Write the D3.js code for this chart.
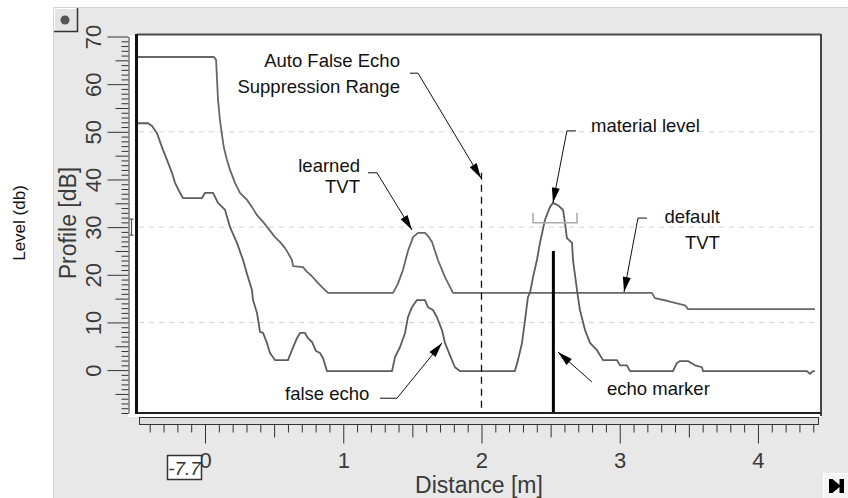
<!DOCTYPE html>
<html>
<head>
<meta charset="utf-8">
<script src="https://cdn.jsdelivr.net/npm/d3@7"></script>
<style>
  body { margin: 0; background: #fff; }
  svg { display: block; font-family: "Liberation Sans", Arial, sans-serif; }
</style>
</head>
<body>
<svg id="chart" width="848" height="498"></svg>
<script>
// TVT curve (learned near field, default beyond): distance in m, level in dB
const tvtDistance = [-0.492, 0.065, 0.080, 0.087, 0.094, 0.108, 0.123, 0.137, 0.159, 0.181, 0.217, 0.253,
  0.304, 0.340, 0.376, 0.420, 0.456, 0.506, 0.542, 0.579, 0.600, 0.629, 0.637, 0.709, 0.738, 0.774,
  0.810, 0.846, 0.890, 1.360, 1.395, 1.432, 1.468, 1.505, 1.541, 1.591, 1.620, 1.642, 1.685, 1.736,
  1.794, 3.233, 3.255, 3.349, 3.472, 3.494, 4.412];
const tvtLevel = [65.7, 65.7, 65.1, 60.9, 56.7, 52.5, 49.3, 46.6, 44.1, 42.0, 39.3, 37.2,
  35.7, 34.2, 32.5, 31.1, 29.8, 27.9, 26.9, 25.6, 24.6, 23.1, 21.8, 21.6, 20.6, 19.7,
  18.5, 17.4, 16.2, 16.2, 18.1, 21.0, 25.0, 27.9, 28.8, 28.8, 27.9, 26.9, 23.1, 19.5,
  16.2, 16.2, 15.1, 14.5, 13.6, 12.8, 12.8];

// Echo profile: distance in m, level in dB
const profileDistance = [-0.492, -0.412, -0.383, -0.347, -0.325, -0.304, -0.275, -0.239, -0.217, -0.181,
  -0.159, -0.022, 0.000, 0.058, 0.094, 0.145, 0.181, 0.231, 0.275, 0.311, 0.340, 0.347, 0.376,
  0.398, 0.420, 0.448, 0.470, 0.506, 0.600, 0.629, 0.665, 0.687, 0.723, 0.745, 0.774, 0.803,
  0.832, 0.854, 0.882, 1.353, 1.374, 1.410, 1.447, 1.468, 1.497, 1.533, 1.591, 1.613, 1.649,
  1.678, 1.714, 1.736, 1.772, 1.808, 1.844, 2.242, 2.264, 2.293, 2.315, 2.336, 2.351, 2.373,
  2.401, 2.423, 2.459, 2.495, 2.517, 2.553, 2.590, 2.604, 2.618, 2.655, 2.662, 2.691, 2.712,
  2.749, 2.785, 2.835, 2.879, 2.980, 3.002, 3.052, 3.074, 3.385, 3.414, 3.436, 3.494, 3.544,
  3.595, 3.602, 4.354, 4.376, 4.398, 4.412];
const profileLevel = [51.8, 51.8, 51.2, 49.7, 47.9, 46.2, 44.1, 41.4, 39.3, 37.2,
  36.1, 36.1, 37.2, 37.2, 35.1, 33.6, 30.0, 26.7, 23.1, 19.5, 16.8, 14.7, 12.0,
  8.0, 7.8, 5.7, 3.6, 2.1, 2.1, 4.2, 6.7, 7.8, 7.8, 6.7, 5.9, 4.0,
  3.6, 2.5, -0.2, -0.2, 2.7, 4.8, 7.8, 11.1, 13.2, 14.7, 14.7, 13.2, 12.6,
  11.1, 8.4, 5.7, 3.1, 0.6, -0.2, -0.2, 2.1, 5.7, 10.5, 15.3, 16.2, 19.5,
  23.1, 26.7, 31.5, 34.2, 35.1, 34.6, 33.6, 30.9, 27.7, 26.7, 23.1, 16.8, 12.6,
  8.4, 5.7, 4.2, 2.1, 2.1, 1.0, 1.0, -0.2, -0.2, 1.5, 1.9, 1.9, 1.0,
  0.6, -0.2, -0.2, -0.8, -0.2, -0.2];

const xTickLabels = [0, 1, 2, 3, 4];
const yTickLabels = [0, 10, 20, 30, 40, 50, 60, 70];
const gridLevels = [10, 30, 50];

const echoMarker = { distance: 2.52, level: 25 };
const suppressionRange = { distance: 2.0, level: 41.4 };
const echoWindow = { from: 2.373, to: 2.691, level: 30.9, top: 33.0 };
const thresholdLevel = 30;
const cursorReadout = "-7.7";

// Callouts: text position and leader path, in distance / level units
const callouts = [
  { lines: ["Auto False Echo", "Suppression Range"], anchor: "end", tx: 1.41, ty: [63.6, 58.1],
    path: [[1.483, 62.3], [1.541, 62.3], [1.996, 40.3]] },
  { lines: ["learned", "TVT"], anchor: "end", tx: 1.121, ty: [41.6, 37.2],
    path: [[1.179, 41.4], [1.244, 41.4], [1.497, 29.4]] },
  { lines: ["material level"], anchor: "start", tx: 2.792, ty: [50.0],
    path: [[2.684, 50.2], [2.618, 50.2], [2.517, 35.1]] },
  { lines: ["default", "TVT"], anchor: "end", tx: 3.725, ty: [30.9, 25.4],
    path: [[3.197, 31.9], [3.132, 31.9], [3.031, 16.4]] },
  { lines: ["false echo"], anchor: "start", tx: 0.579, ty: [-6.3],
    path: [[1.266, -5.9], [1.389, -5.9], [1.714, 5.7]] },
  { lines: ["echo marker"], anchor: "start", tx: 2.908, ty: [-5.2],
    path: [[2.799, -2.5], [2.553, 3.8]] }
];

const svg = d3.select("#chart");
const plot = { left: 137, right: 821, top: 35, bottom: 413 };

const x = d3.scaleLinear().domain([-0.492, 4.456]).range([plot.left, plot.right]);
const y = d3.scaleLinear().domain([-9, 70]).range([413, 36.5]);

// Instrument panel background
svg.append("rect").attr("x", 53.5).attr("y", 7.5).attr("width", 800).attr("height", 500)
  .attr("fill", "#e8e8e8").attr("stroke", "#d4d4d4");

// Plot area and the white strip between ruler and plot
svg.append("rect").attr("x", 128).attr("y", plot.top).attr("width", plot.right - 128)
  .attr("height", 417 - plot.top).attr("fill", "#fff");

// Dashed reference levels
svg.append("g").selectAll("line").data(gridLevels).join("line")
  .attr("x1", plot.left + 2).attr("x2", plot.right - 1)
  .attr("y1", d => y(d)).attr("y2", d => y(d))
  .attr("stroke", "#d2d2d2").attr("stroke-width", 1).attr("stroke-dasharray", "5,5");

// Curves
const line = d3.line().x(d => x(d[0])).y(d => y(d[1])).curve(d3.curveLinear);
const tvt = tvtDistance.map((d, i) => [d, tvtLevel[i]]);
const profile = profileDistance.map((d, i) => [d, profileLevel[i]]);

svg.append("path").datum(tvt).attr("d", line).attr("fill", "none")
  .attr("stroke", "#666").attr("stroke-width", 1.8).attr("stroke-linejoin", "round");
svg.append("path").datum(profile).attr("d", line).attr("fill", "none")
  .attr("stroke", "#5c5c5c").attr("stroke-width", 1.8).attr("stroke-linejoin", "round");

// Auto false echo suppression range limit
svg.append("line")
  .attr("x1", x(suppressionRange.distance)).attr("x2", x(suppressionRange.distance))
  .attr("y1", y(suppressionRange.level)).attr("y2", plot.bottom)
  .attr("stroke", "#111").attr("stroke-width", 1.3).attr("stroke-dasharray", "7,5");

// Echo window bracket
svg.append("path")
  .attr("d", `M${x(echoWindow.from)},${y(echoWindow.top)}V${y(echoWindow.level)}H${x(echoWindow.to)}V${y(echoWindow.top)}`)
  .attr("fill", "none").attr("stroke", "#a8a8a8").attr("stroke-width", 1.5);

// Echo marker
svg.append("line")
  .attr("x1", x(echoMarker.distance)).attr("x2", x(echoMarker.distance))
  .attr("y1", y(echoMarker.level)).attr("y2", plot.bottom)
  .attr("stroke", "#000").attr("stroke-width", 3);

// Callouts with arrowheads
const cg = svg.append("g");
callouts.forEach(c => {
  const pts = c.path.map(p => [x(p[0]), y(p[1])]);
  cg.append("path").attr("d", d3.line()(pts)).attr("fill", "none")
    .attr("stroke", "#111").attr("stroke-width", 1);
  const [x1, y1] = pts[pts.length - 2];
  const [x2, y2] = pts[pts.length - 1];
  const ang = Math.atan2(y2 - y1, x2 - x1);
  const len = 15, hw = 4;
  const bx = x2 - len * Math.cos(ang), by = y2 - len * Math.sin(ang);
  const px = -Math.sin(ang) * hw, py = Math.cos(ang) * hw;
  cg.append("path")
    .attr("d", `M${x2},${y2}L${bx + px},${by + py}L${bx - px},${by - py}Z`)
    .attr("fill", "#000");
  c.lines.forEach((t, i) => {
    cg.append("text").attr("x", x(c.tx)).attr("y", y(c.ty[i]))
      .attr("text-anchor", c.anchor).attr("font-size", 18.5).attr("fill", "#111").text(t);
  });
});

// Plot frame
svg.append("line").attr("x1", plot.left).attr("x2", plot.right).attr("y1", 34.5).attr("y2", 34.5)
  .attr("stroke", "#4a4a4a").attr("stroke-width", 2);
svg.append("line").attr("x1", plot.right).attr("x2", plot.right).attr("y1", 34).attr("y2", 416)
  .attr("stroke", "#444").attr("stroke-width", 2);
svg.append("line").attr("x1", 136.5).attr("x2", 136.5).attr("y1", 34).attr("y2", 414)
  .attr("stroke", "#111").attr("stroke-width", 3);
svg.append("line").attr("x1", plot.left).attr("x2", plot.right).attr("y1", 413).attr("y2", 413)
  .attr("stroke", "#222").attr("stroke-width", 2);

// Threshold cursor beside the level ruler
const ty0 = y(thresholdLevel);
svg.append("path")
  .attr("d", `M129.5,${ty0 - 8}H133.5M131.5,${ty0 - 8}V${ty0 + 8}M129.5,${ty0 + 8}H133.5`)
  .attr("fill", "none").attr("stroke", "#555").attr("stroke-width", 1.2);

// Level ruler
const yAxis = d3.axisLeft(y).tickValues(d3.range(-9, 71)).tickSizeOuter(0)
  .tickFormat(d => yTickLabels.includes(d) ? d : "");
const gy = svg.append("g").attr("transform", "translate(128.5,0)").call(yAxis)
  .attr("font-family", null).attr("font-size", 22);
gy.select(".domain").attr("stroke", "#333");
gy.selectAll(".tick line").attr("stroke", "#333")
  .attr("x2", d => d % 10 === 0 ? -21 : (d % 5 === 0 ? -13 : -7));
gy.selectAll(".tick text").attr("x", 0).attr("dy", 0).attr("text-anchor", "middle")
  .attr("transform", "translate(-28,0) rotate(-90)").attr("fill", "#3a3a3a");

// Distance ruler band
svg.append("rect").attr("x", 139.5).attr("y", 417.5).attr("width", 679).attr("height", 7)
  .attr("fill", "#dedede").attr("stroke", "#333").attr("stroke-width", 1);

const xTicks = d3.range(-4, 45).map(i => i / 10);
const xAxis = d3.axisBottom(x).tickValues(xTicks).tickSizeOuter(0)
  .tickFormat(d => xTickLabels.includes(d) ? d : "");
const gx = svg.append("g").attr("transform", "translate(0,424.5)").call(xAxis)
  .attr("font-family", null).attr("font-size", 22);
gx.select(".domain").remove();
gx.selectAll(".tick line").attr("stroke", "#333")
  .attr("y2", d => { const k = Math.round(d * 10); return k % 10 === 0 ? 19 : (k % 5 === 0 ? 13 : 8); });
gx.selectAll(".tick text").attr("y", 43).attr("dy", 0).attr("fill", "#3a3a3a");

// Axis titles
svg.append("text").attr("transform", `translate(${(plot.left + plot.right) / 2},493) `)
  .attr("text-anchor", "middle").attr("font-size", 23).attr("fill", "#3a3a3a").text("Distance [m]");
svg.append("text").attr("transform", "translate(76,223) rotate(-90)")
  .attr("text-anchor", "middle").attr("font-size", 23).attr("fill", "#3a3a3a").text("Profile [dB]");
svg.append("text").attr("transform", "translate(25,223) rotate(-90)")
  .attr("text-anchor", "middle").attr("font-size", 17).attr("fill", "#111").text("Level (db)");

// Cursor readout box
svg.append("rect").attr("x", 167.5).attr("y", 455.5).attr("width", 34).attr("height", 24)
  .attr("fill", "#fff").attr("stroke", "#333").attr("stroke-width", 1.5);
svg.append("text").attr("x", 184.5).attr("y", 475).attr("text-anchor", "middle")
  .attr("font-size", 19).attr("font-style", "italic").attr("fill", "#333").text(cursorReadout);

// Corner buttons
svg.append("rect").attr("x", 54).attr("y", 8).attr("width", 23).attr("height", 23).attr("fill", "#e4e4e4");
svg.append("path").attr("d", "M54.5,31V8.5H77").attr("fill", "none").attr("stroke", "#fff");
svg.append("path").attr("d", "M54,31.5H77.5V8").attr("fill", "none").attr("stroke", "#333").attr("stroke-width", 1.5);
svg.append("circle").attr("cx", 65).attr("cy", 20).attr("r", 4.5).attr("fill", "#555");

svg.append("rect").attr("x", 823).attr("y", 473).attr("width", 25).attr("height", 25).attr("fill", "#f4f4f4");
svg.append("path").attr("d", "M823.5,498V473.5H848").attr("fill", "none").attr("stroke", "#fff");
svg.append("path")
  .attr("d", "M829,479H832.5L839.5,485V479H844V493H839.5V487L832.5,493H829Z")
  .attr("fill", "#000");
</script>
</body>
</html>
